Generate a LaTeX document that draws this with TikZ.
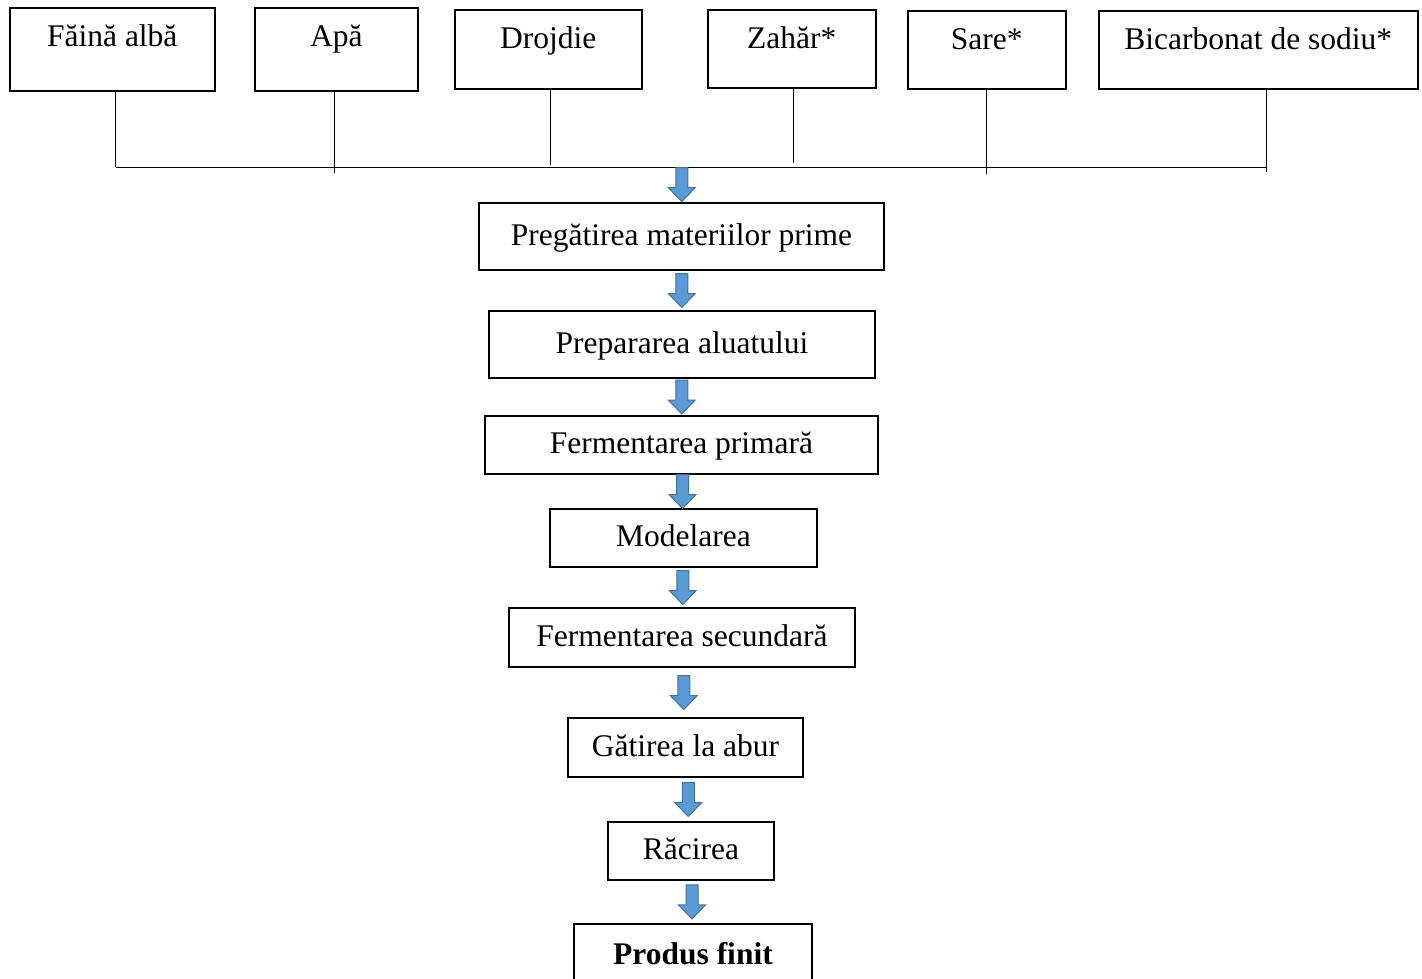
\documentclass[tikz,border=0pt]{standalone}
\usepackage{fontspec}
\setmainfont{Liberation Serif}
\usetikzlibrary{positioning,calc}

\definecolor{arrowfill}{HTML}{5B9BD5}
\definecolor{arrowdraw}{HTML}{41719C}

% fat blue arrow, 34pt long, centred in the gap between two named points
\newcommand{\flowarrow}[2]{%
 \path[farrow] let \p1=(#1), \p2=(#2), \n1={(\y1+\y2)/2}, \n2={(\x1+\x2)/2} in
  (\n2-6pt,\n1+17pt) -- (\n2+6pt,\n1+17pt) -- (\n2+6pt,\n1-3pt) -- (\n2+13.5pt,\n1-3pt)
  -- (\n2,\n1-17pt) -- (\n2-13.5pt,\n1-3pt) -- (\n2-6pt,\n1-3pt) -- cycle;}

\begin{document}
\begin{tikzpicture}[x=1pt,y=-1pt,font=\fontsize{31.5}{36}\selectfont,
 src/.style={draw,line width=1.6pt,inner sep=0pt,anchor=north west,text height=39pt,text depth=#1},
 stage/.style={draw,line width=1.6pt,inner sep=0pt,text height=23pt,text depth=6pt},
 conn/.style={line width=1pt},
 farrow/.style={fill=arrowfill,draw=arrowdraw,line width=1pt,line join=miter}]

\useasboundingbox (0,0) rectangle (1422,978);

% ingredients
\node[src=44pt,minimum width=205pt] (faina) at (9,7) {Făină albă};
\node[src=44pt,minimum width=163pt] (apa) at (254,7) {Apă};
\node[src=40pt,minimum width=187pt] (drojdie) at (454,9) {Drojdie};
\node[src=39pt,minimum width=168pt] (zahar) at (707,9) {Zahăr*};
\node[src=39pt,minimum width=158pt] (sare) at (907,10) {Sare*};
\node[src=39pt,minimum width=319pt] (bicarb) at (1098,10) {Bicarbonat de sodiu*};

\coordinate (bus) at (682,167);
\draw[conn] ([xshift=3.5pt]faina.south |- bus) -- ([xshift=8.5pt]bicarb.south |- bus);
\foreach \n/\dx/\dy in {faina/3.5/0,apa/-1.5/-6,drojdie/2.5/2,zahar/2/4,sare/0/-7,bicarb/8.5/-5}
 {\draw[conn] ([xshift=\dx pt]\n.south) -- ([xshift=\dx pt,yshift=\dy pt]\n.south |- bus);}

% process line
\node[stage,minimum width=405pt,minimum height=67pt] (pregatire) at (681.5,236.5) {Pregătirea materiilor prime};
\node[stage,minimum width=386pt,minimum height=67pt] (aluat) at (682,344.5) {Prepararea aluatului};
\node[stage,minimum width=393pt,minimum height=58pt] (ferm1) at (681.5,445) {Fermentarea primară};
\node[stage,minimum width=267pt,minimum height=58pt] (model) at (683.5,538) {Modelarea};
\node[stage,minimum width=346pt,minimum height=59pt] (ferm2) at (682,637.5) {Fermentarea secundară};
\node[stage,minimum width=235pt,minimum height=59pt] (gatire) at (685.5,747.5) {Gătirea la abur};
\node[stage,minimum width=166pt,minimum height=58pt] (racire) at (691,851) {Răcirea};
\node[stage,minimum width=238pt,minimum height=64pt,anchor=north,font=\fontsize{31.5}{36}\selectfont\bfseries] (produs) at (693,923) {Produs finit};

\flowarrow{bus}{pregatire.north}
\flowarrow{pregatire.south}{aluat.north}
\flowarrow{aluat.south}{ferm1.north}
\flowarrow{ferm1.south}{model.north}
\flowarrow{model.south}{ferm2.north}
\flowarrow{ferm2.south}{gatire.north}
\flowarrow{gatire.south}{racire.north}
\flowarrow{racire.south}{produs.north}

\end{tikzpicture}
\end{document}
